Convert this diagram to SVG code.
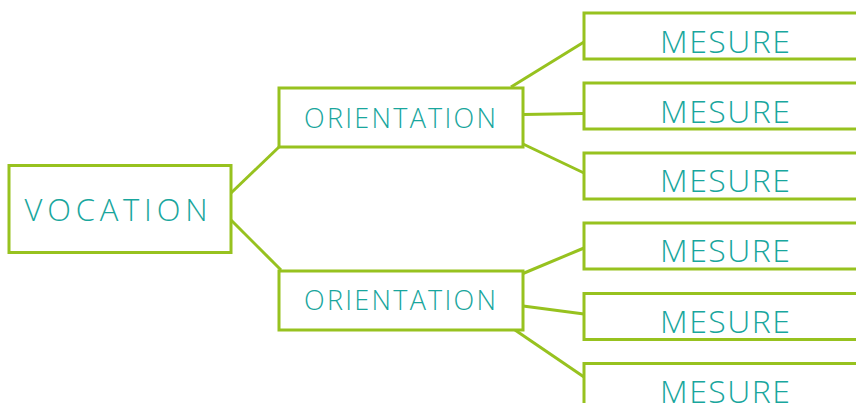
<svg xmlns="http://www.w3.org/2000/svg" width="856" height="403" viewBox="0 0 856 403">
  <style>
    .box { fill: #ffffff; stroke: #97c21f; stroke-width: 3; }
    .link { stroke: #97c21f; stroke-width: 3; fill: none; }
    .label { fill: #19a69d; font-family: "Open Sans", "Lato", "DejaVu Sans", sans-serif; font-weight: 300; text-anchor: middle; }
  </style>
  <rect width="856" height="403" fill="#ffffff"/>

  <g id="connectors">
    <line class="link" x1="231" y1="193" x2="279" y2="147"/>
    <line class="link" x1="231" y1="220" x2="281" y2="270"/>
    <line class="link" x1="511" y1="87" x2="584" y2="42"/>
    <line class="link" x1="523" y1="114.5" x2="584" y2="113.5"/>
    <line class="link" x1="523" y1="144" x2="584" y2="173"/>
    <line class="link" x1="523" y1="273.5" x2="584" y2="248"/>
    <line class="link" x1="523" y1="306" x2="584" y2="314"/>
    <line class="link" x1="515" y1="330" x2="584" y2="377"/>
  </g>

  <g id="vocation">
    <rect class="box" x="9" y="165.5" width="222" height="87"/>
    <text class="label" x="116" y="221" font-size="31" textLength="183" lengthAdjust="spacing">VOCATION</text>
  </g>

  <g id="orientation-1">
    <rect class="box" x="279" y="88" width="244" height="59"/>
    <text class="label" x="400" y="127.5" font-size="27" textLength="192" lengthAdjust="spacing">ORIENTATION</text>
  </g>
  <g id="orientation-2">
    <rect class="box" x="279" y="271" width="244" height="59"/>
    <text class="label" x="400" y="310" font-size="27" textLength="192" lengthAdjust="spacing">ORIENTATION</text>
  </g>

  <g id="mesure-1">
    <rect class="box" x="584" y="13" width="280" height="46"/>
    <text class="label" x="725" y="52.5" font-size="32" textLength="130" lengthAdjust="spacing">MESURE</text>
  </g>
  <g id="mesure-2">
    <rect class="box" x="584" y="83" width="280" height="46"/>
    <text class="label" x="725" y="122.5" font-size="32" textLength="130" lengthAdjust="spacing">MESURE</text>
  </g>
  <g id="mesure-3">
    <rect class="box" x="584" y="153" width="280" height="46"/>
    <text class="label" x="725" y="192" font-size="32" textLength="130" lengthAdjust="spacing">MESURE</text>
  </g>
  <g id="mesure-4">
    <rect class="box" x="584" y="223" width="280" height="46"/>
    <text class="label" x="725" y="262" font-size="32" textLength="130" lengthAdjust="spacing">MESURE</text>
  </g>
  <g id="mesure-5">
    <rect class="box" x="584" y="293.5" width="280" height="46"/>
    <text class="label" x="725" y="332.5" font-size="32" textLength="130" lengthAdjust="spacing">MESURE</text>
  </g>
  <g id="mesure-6">
    <rect class="box" x="584" y="363.5" width="280" height="46"/>
    <text class="label" x="725" y="402.5" font-size="32" textLength="130" lengthAdjust="spacing">MESURE</text>
  </g>
</svg>
